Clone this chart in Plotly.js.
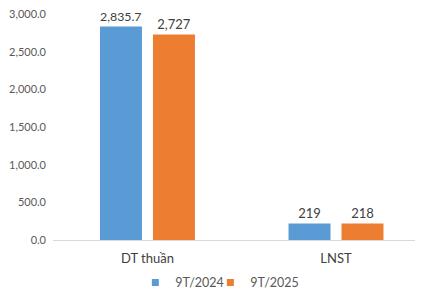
<!DOCTYPE html>
<html>
<head>
<meta charset="utf-8">
<script src="https://cdn.plot.ly/plotly-3.0.1.min.js"></script>
<style>html,body{margin:0;padding:0;background:#fff;}#chart{width:427px;height:301px;}</style>
</head>
<body>
<div id="chart"></div>
<script>
var categories = ["DT thuần", "LNST"];
var seriesNames = ["9T/2024", "9T/2025"];
var series2024 = [2835.7, 219];
var series2025 = [2727, 218];
var labels2024 = ["2,835.7", "219"];
var labels2025 = ["2,727", "218"];
var yTickVals = [0, 500, 1000, 1500, 2000, 2500, 3000];
var yTickText = ["0.0", "500.0", "1,000.0", "1,500.0", "2,000.0", "2,500.0", "3,000.0"];
var colors = ["#5B9BD5", "#ED7D31"];

var font = "Lato, Carlito, 'Liberation Sans', sans-serif";

var traces = [
  {type: "bar", name: seriesNames[0], x: categories, y: series2024, text: labels2024,
   textposition: "outside", cliponaxis: false, marker: {color: colors[0]}, showlegend: false,
   textfont: {size: 13, color: "#404040", family: font}, hoverinfo: "none"},
  {type: "bar", name: seriesNames[1], x: categories, y: series2025, text: labels2025,
   textposition: "outside", cliponaxis: false, marker: {color: colors[1]}, showlegend: false,
   textfont: {size: 13, color: "#404040", family: font}, hoverinfo: "none"},
  {type: "scatter", mode: "markers", name: seriesNames[0], x: [null], y: [null],
   marker: {symbol: "square", size: 7, color: colors[0]}, hoverinfo: "none"},
  {type: "scatter", mode: "markers", name: seriesNames[1], x: [null], y: [null],
   marker: {symbol: "square", size: 7, color: colors[1]}, hoverinfo: "none"},
  {type: "scatter", mode: "markers", name: " ", x: [null], y: [null],
   marker: {symbol: "square", size: 7, color: "rgba(0,0,0,0)"}, hoverinfo: "none"}
];

var layout = {
  width: 427, height: 301,
  margin: {l: 53, r: 12, t: 13.5, b: 61},
  paper_bgcolor: "#fff", plot_bgcolor: "#fff",
  font: {family: font, color: "#595959"},
  barmode: "group", bargap: 0.438, bargroupgap: 0.2075,
  showlegend: true,
  legend: {orientation: "h", x: 0.317, xref: "container", xanchor: "left",
           y: 0.06, yref: "container", yanchor: "middle", entrywidth: 30,
           font: {size: 12.5, color: "#595959", family: font}, itemwidth: 30, traceorder: "normal"},
  xaxis: {type: "category", range: [-0.501, 1.419], showgrid: false, zeroline: false,
          showline: true, linecolor: "#d9d9d9", linewidth: 1, ticks: "",
          tickfont: {size: 13, color: "#404040", family: font}, ticklabelstandoff: 6},
  yaxis: {range: [0, 3000], tickvals: yTickVals, ticktext: yTickText, showgrid: false,
          zeroline: false, showline: false, ticks: "",
          tickfont: {size: 11, color: "#595959", family: font}, ticklabelstandoff: 6}
};

Plotly.newPlot("chart", traces, layout, {staticPlot: true});
</script>
</body>
</html>
